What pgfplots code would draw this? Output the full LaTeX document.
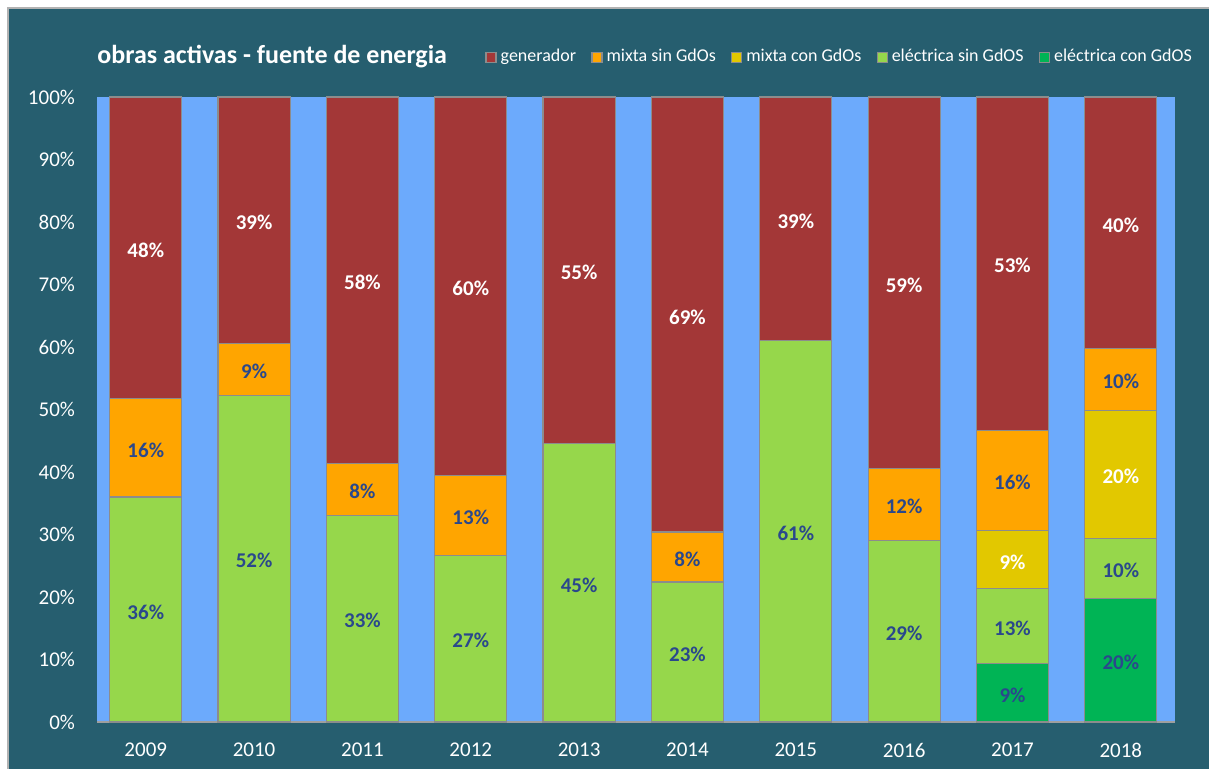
\documentclass[border=0pt]{standalone}
\usepackage{pgfplots}
\pgfplotsset{compat=1.18}
\usepackage{pgfplotstable}
\usepackage{fontspec}
\setmainfont{Carlito}

\definecolor{bgteal}{RGB}{38,94,111}
\definecolor{plotblue}{RGB}{108,170,252}
\definecolor{cgen}{RGB}{163,55,55}
\definecolor{cmsin}{RGB}{255,165,0}
\definecolor{cmcon}{RGB}{226,200,0}
\definecolor{cesin}{RGB}{150,215,75}
\definecolor{cecon}{RGB}{0,180,85}
\definecolor{labblue}{RGB}{42,72,140}

\pgfplotsset{
  sqlegend/.style={legend image code/.code={\draw[##1] (0pt,-2.6pt) rectangle (5pt,2.4pt);}},
}

% segment heights (percent), bottom to top
\pgfplotstableread{
x econ esin mcon msin gen
0 0    36.0 0    15.7 48.3
1 0    52.3 0    8.3  39.4
2 0    33.1 0    8.3  58.6
3 0    26.7 0    12.8 60.5
4 0    44.6 0    0    55.4
5 0    22.4 0    8.0  69.6
6 0    61.0 0    0    39.0
7 0    29.1 0    11.5 59.4
8 9.3  12.0 9.4  16.0 53.3
9 19.8 9.6  20.5 9.9  40.2
}\datatable

% label positions (segment middles) and printed values
\pgfplotstableread{
x y lab
0 18.0 36
0 43.9 16
1 26.2 52
1 56.5 9
2 16.6 33
2 37.3 8
3 13.4 27
3 33.1 13
4 22.3 45
5 11.2 23
5 26.4 8
6 30.5 61
7 14.6 29
7 34.9 12
8 4.7 9
8 15.3 13
8 38.7 16
9 9.9 20
9 24.6 10
9 54.9 10
}\bluelabels

\pgfplotstableread{
x y lab
0 75.9 48
1 80.3 39
2 70.7 58
3 69.8 60
4 72.3 55
5 65.2 69
6 80.5 39
7 70.3 59
8 73.4 53
9 79.9 40
8 26.0 9
9 39.7 20
}\whitelabels

\begin{document}
\begin{tikzpicture}
\useasboundingbox (-48.5pt,-23.5pt) rectangle (556pt,361pt);
\fill[white] (-48.5pt,-23.5pt) rectangle (556pt,361pt);
\fill[bgteal] (-44.5pt,-23.5pt) rectangle (556pt,357pt);
\draw[gray!60, line width=0.8pt] (-44.5pt,-23.5pt) -- (-44.5pt,357pt) -- (556pt,357pt);

\begin{axis}[
  at={(0pt,0pt)}, anchor=south west,
  scale only axis, width=539pt, height=312.5pt,
  ybar stacked, bar width=0.665,
  xmin=-0.45, xmax=9.5, ymin=0, ymax=100,
  axis background/.style={fill=plotblue},
  axis lines*=left,
  x axis line style={draw=gray!75, line width=1.2pt},
  y axis line style={draw=none},
  major tick length=0pt,
  xtick={0,1,2,3,4,5,6,7,8,9},
  xticklabels={2009,2010,2011,2012,2013,2014,2015,2016,2017,2018},
  ytick={0,10,...,100},
  yticklabel={\pgfmathprintnumber{\tick}\%},
  /pgf/number format/assume math mode=true,
  tick label style={font=\fontsize{10.5}{12}\selectfont, text=white},
  yticklabel style={xshift=-7.5pt},
  xticklabel style={yshift=-7pt},
  legend columns=5, reverse legend,
  legend style={at={(axis description cs:0.36,1.064)}, anchor=west, draw=none, fill=none, inner xsep=0pt,
    font=\fontsize{9}{10}\selectfont, text=white,
    /tikz/every even column/.append style={column sep=5.6pt}},
  every axis plot/.append style={line width=0.6pt, draw=black!45},
  clip=false,
]
\addplot[fill=cecon, sqlegend] table[x=x,y=econ]{\datatable};
\addlegendentry{eléctrica con GdOS}
\addplot[fill=cesin, sqlegend] table[x=x,y=esin]{\datatable};
\addlegendentry{eléctrica sin GdOS}
\addplot[fill=cmcon, sqlegend] table[x=x,y=mcon]{\datatable};
\addlegendentry{mixta con GdOs}
\addplot[fill=cmsin, sqlegend] table[x=x,y=msin]{\datatable};
\addlegendentry{mixta sin GdOs}
\addplot[fill=cgen, sqlegend] table[x=x,y=gen]{\datatable};
\addlegendentry{generador}
\node[anchor=west, inner sep=0pt, text=white, font=\bfseries\fontsize{13}{15}\selectfont]
  at (axis description cs:0,1.064) {obras activas - fuente de energia};
\end{axis}

\begin{axis}[
  at={(0pt,0pt)}, anchor=south west,
  scale only axis, width=539pt, height=312.5pt,
  xmin=-0.45, xmax=9.5, ymin=0, ymax=100,
  hide axis, clip=false,
  nodes near coords={\pgfplotspointmeta\%},
  point meta=explicit symbolic,
  nodes near coords align={center},
  every node near coord/.append style={font=\bfseries\fontsize{10.5}{12}\selectfont, inner sep=0pt, anchor=center, yshift=-1.2pt},
]
\addplot[draw=none, mark=none, every node near coord/.append style={text=labblue}]
  table[x=x,y=y,meta=lab]{\bluelabels};
\addplot[draw=none, mark=none, every node near coord/.append style={text=white}]
  table[x=x,y=y,meta=lab]{\whitelabels};
\end{axis}
\end{tikzpicture}
\end{document}
